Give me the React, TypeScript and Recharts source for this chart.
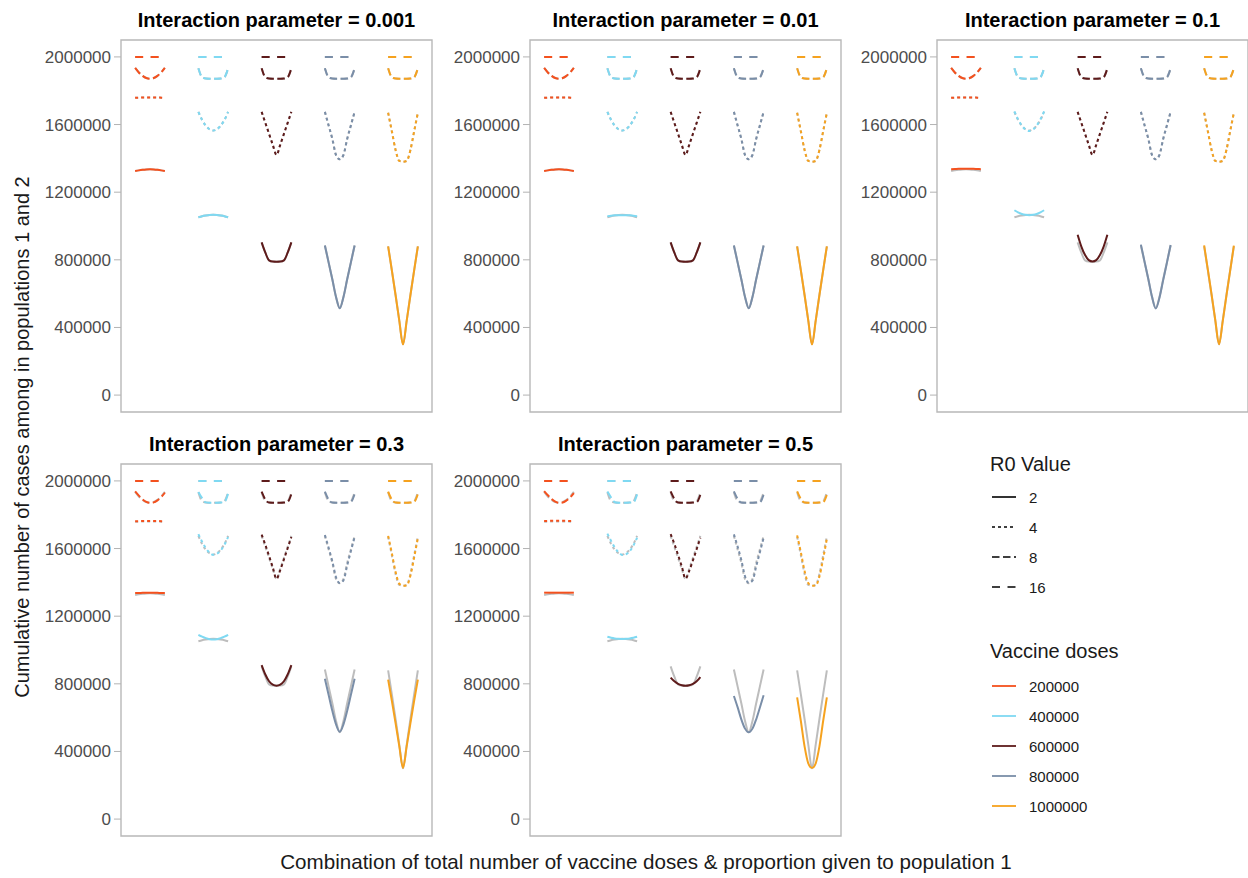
import { LineChart, Line, XAxis, YAxis, ReferenceArea } from 'recharts';

const interactionParams = ['0.001', '0.01', '0.1', '0.3', '0.5'];
const doses = [200000, 400000, 600000, 800000, 1000000];
const r0Values = [2, 4, 8, 16];
const proportions = [0, 0.125, 0.25, 0.375, 0.5, 0.625, 0.75, 0.875, 1];
const yTicks = [0, 400000, 800000, 1200000, 1600000, 2000000];

// rows inside each dose block follow r0Values: 2, 4, 8, 16
const top16 = [2000000, 2000000, 2000000, 2000000, 2000000, 2000000, 2000000, 2000000, 2000000];
const trap8 = [1933000, 1880000, 1872000, 1871000, 1871000, 1871000, 1872000, 1880000, 1933000];

// baseline (also drawn in grey behind every panel)
const base200 = [
  [1325000, 1329000, 1332000, 1334000, 1335000, 1334000, 1332000, 1329000, 1325000],
  [1758000, 1759000, 1760000, 1760000, 1760000, 1760000, 1760000, 1759000, 1758000],
  [1935000, 1908000, 1888000, 1875000, 1871000, 1875000, 1888000, 1908000, 1935000],
  top16,
];
const base400 = [
  [1052000, 1058000, 1062000, 1065000, 1066000, 1065000, 1062000, 1058000, 1052000],
  [1675000, 1627000, 1593000, 1572000, 1565000, 1572000, 1593000, 1627000, 1675000],
  trap8,
  top16,
];
const base600 = [
  [903000, 842000, 797000, 790000, 789000, 790000, 797000, 842000, 903000],
  [1675000, 1610000, 1545000, 1480000, 1420000, 1480000, 1545000, 1610000, 1675000],
  trap8,
  top16,
];
const base800 = [
  [885000, 785000, 685000, 580000, 513000, 580000, 685000, 785000, 885000],
  [1675000, 1595000, 1515000, 1420000, 1395000, 1420000, 1515000, 1595000, 1675000],
  trap8,
  top16,
];
const base1000 = [
  [880000, 738000, 592000, 440000, 300000, 440000, 592000, 738000, 880000],
  [1670000, 1560000, 1450000, 1385000, 1380000, 1385000, 1450000, 1560000, 1670000],
  trap8,
  top16,
];

// interaction = 0.01
const p01_400 = [
  [1058000, 1061000, 1063000, 1064000, 1064000, 1064000, 1063000, 1061000, 1058000],
  base400[1],
  trap8,
  top16,
];

// interaction = 0.1
const p1_200 = [
  [1336000, 1337000, 1338000, 1338000, 1338000, 1338000, 1338000, 1337000, 1336000],
  base200[1],
  base200[2],
  top16,
];
const p1_400 = [
  [1093000, 1080000, 1071000, 1066000, 1064000, 1066000, 1071000, 1080000, 1093000],
  [1678000, 1630000, 1594000, 1570000, 1562000, 1570000, 1594000, 1630000, 1678000],
  trap8,
  top16,
];
const p1_600 = [
  [948000, 878000, 828000, 798000, 790000, 798000, 828000, 878000, 948000],
  base600[1],
  trap8,
  top16,
];
const p1_800 = [
  [890000, 788000, 687000, 581000, 512000, 576000, 680000, 782000, 888000],
  base800[1],
  trap8,
  top16,
];
const p1_1000 = [
  [885000, 742000, 596000, 444000, 300000, 436000, 588000, 735000, 884000],
  base1000[1],
  trap8,
  top16,
];

// interaction = 0.3
const p3_200 = [
  [1337000, 1337000, 1338000, 1338000, 1338000, 1338000, 1338000, 1337000, 1337000],
  [1762000, 1762000, 1763000, 1763000, 1763000, 1763000, 1763000, 1762000, 1762000],
  [1938000, 1913000, 1891000, 1876000, 1870000, 1873000, 1885000, 1904000, 1930000],
  top16,
];
const p3_400 = [
  [1090000, 1079000, 1070000, 1064000, 1062000, 1064000, 1070000, 1079000, 1090000],
  [1685000, 1640000, 1602000, 1576000, 1563000, 1569000, 1588000, 1622000, 1668000],
  [1935000, 1898000, 1873000, 1871000, 1871000, 1871000, 1872000, 1876000, 1925000],
  top16,
];
const p3_600 = [
  [911000, 855000, 815000, 795000, 789000, 795000, 815000, 855000, 911000],
  [1682000, 1622000, 1556000, 1488000, 1420000, 1472000, 1536000, 1602000, 1668000],
  [1936000, 1890000, 1872000, 1871000, 1871000, 1871000, 1872000, 1876000, 1922000],
  top16,
];
const p3_800 = [
  [830000, 735000, 640000, 560000, 516000, 560000, 640000, 735000, 830000],
  [1680000, 1605000, 1525000, 1430000, 1396000, 1412000, 1500000, 1585000, 1668000],
  [1936000, 1890000, 1872000, 1871000, 1871000, 1871000, 1872000, 1876000, 1922000],
  top16,
];
const p3_1000 = [
  [825000, 700000, 568000, 432000, 303000, 432000, 568000, 700000, 825000],
  [1675000, 1572000, 1462000, 1392000, 1380000, 1382000, 1440000, 1548000, 1662000],
  [1936000, 1890000, 1872000, 1871000, 1871000, 1871000, 1872000, 1876000, 1922000],
  top16,
];

// interaction = 0.5
const p5_200 = [
  [1339000, 1339000, 1339000, 1339000, 1339000, 1339000, 1339000, 1339000, 1339000],
  [1763000, 1763000, 1764000, 1764000, 1764000, 1764000, 1764000, 1763000, 1763000],
  [1940000, 1915000, 1893000, 1877000, 1870000, 1872000, 1884000, 1902000, 1928000],
  top16,
];
const p5_400 = [
  [1078000, 1072000, 1068000, 1066000, 1065000, 1066000, 1068000, 1072000, 1078000],
  [1688000, 1645000, 1606000, 1578000, 1562000, 1566000, 1584000, 1618000, 1664000],
  [1937000, 1902000, 1874000, 1871000, 1871000, 1871000, 1872000, 1874000, 1920000],
  top16,
];
const p5_600 = [
  [837000, 815000, 800000, 792000, 789000, 792000, 800000, 815000, 840000],
  [1685000, 1628000, 1562000, 1494000, 1422000, 1468000, 1530000, 1596000, 1664000],
  [1938000, 1894000, 1872000, 1871000, 1871000, 1871000, 1872000, 1874000, 1918000],
  top16,
];
const p5_800 = [
  [728000, 662000, 590000, 535000, 513000, 535000, 590000, 660000, 732000],
  [1684000, 1612000, 1532000, 1436000, 1397000, 1410000, 1494000, 1578000, 1664000],
  [1938000, 1894000, 1872000, 1871000, 1871000, 1871000, 1872000, 1874000, 1918000],
  top16,
];
const p5_1000 = [
  [720000, 580000, 430000, 330000, 303000, 330000, 430000, 580000, 720000],
  [1678000, 1578000, 1468000, 1395000, 1380000, 1381000, 1435000, 1540000, 1658000],
  [1938000, 1894000, 1872000, 1871000, 1871000, 1871000, 1872000, 1874000, 1918000],
  top16,
];

const baseline = [base200, base400, base600, base800, base1000];
const panelCases = [
  baseline,
  [base200, p01_400, base600, base800, base1000],
  [p1_200, p1_400, p1_600, p1_800, p1_1000],
  [p3_200, p3_400, p3_600, p3_800, p3_1000],
  [p5_200, p5_400, p5_600, p5_800, p5_1000],
];

const doseColors = ['#F4511E', '#7FD9F2', '#5E1B1B', '#7A8EA8', '#F6A21E'];
const r0Dash = ['0', '3 3', '7.5 3.5', '8 7.5'];
const GREY = '#bdbdbd';
const FONT = '"Liberation Sans", Arial, sans-serif';

const GROUP_SPAN = 0.47;
const X_MIN = -0.2235;
const X_MAX = 4 + GROUP_SPAN + 0.2235;
const Y_MIN = -100000;
const Y_MAX = 2100000;

const PANEL_W = 311;
const PANEL_H = 372;
const AXIS_W = 80;
const panelPos = [
  { left: 121, top: 40, titleY: 20 },
  { left: 530, top: 40, titleY: 20 },
  { left: 937, top: 40, titleY: 20 },
  { left: 121, top: 464, titleY: 444 },
  { left: 530, top: 464, titleY: 444 },
];

const toPoints = (values: number[], doseIdx: number) =>
  proportions.map((p, i) => ({ x: doseIdx + p * GROUP_SPAN, y: values[i] }));

function Panel({ idx }: { idx: number }) {
  const pos = panelPos[idx];
  const cases = panelCases[idx];
  const lines = (src: number[][][], grey: boolean) =>
    src.flatMap((block, d) =>
      block.map((vals, r) => (
        <Line
          key={`${grey ? 'g' : 'c'}-${d}-${r}`}
          data={toPoints(vals, d)}
          dataKey="y"
          type="monotone"
          stroke={grey ? GREY : doseColors[d]}
          strokeWidth={2}
          strokeDasharray={r0Dash[r]}
          dot={false}
          activeDot={false}
          isAnimationActive={false}
        />
      ))
    );

  return (
    <>
      <div
        style={{
          position: 'absolute',
          left: pos.left + PANEL_W / 2 - 200,
          top: pos.titleY - 13,
          width: 400,
          height: 26,
          lineHeight: '26px',
          textAlign: 'center',
          fontFamily: FONT,
          fontWeight: 'bold',
          fontSize: 20,
          color: '#000',
        }}
      >
        Interaction parameter = {interactionParams[idx]}
      </div>
      <div style={{ position: 'absolute', left: pos.left - AXIS_W, top: pos.top - 2 }}>
        <LineChart
          width={AXIS_W + PANEL_W + 2}
          height={PANEL_H + 4}
          margin={{ top: 2, right: 2, bottom: 2, left: 0 }}
        >
          <XAxis type="number" dataKey="x" domain={[X_MIN, X_MAX]} allowDataOverflow hide />
          <YAxis
            type="number"
            domain={[Y_MIN, Y_MAX]}
            ticks={yTicks}
            interval={0}
            allowDataOverflow
            width={AXIS_W}
            axisLine={false}
            tickLine={{ stroke: '#b3b3b3' }}
            tickSize={7}
            tickMargin={3}
            tick={{ fill: '#4d4d4d', fontSize: 17, fontFamily: FONT }}
          />
          <ReferenceArea
            x1={X_MIN}
            x2={X_MAX}
            y1={Y_MIN}
            y2={Y_MAX}
            fill="none"
            stroke="#b8b8b8"
            strokeWidth={1.4}
            ifOverflow="visible"
          />
          {lines(baseline, true)}
          {lines(cases, false)}
        </LineChart>
      </div>
    </>
  );
}

function Legend() {
  const text = { fontFamily: FONT, fill: '#1a1a1a' };
  return (
    <svg
      width={260}
      height={400}
      style={{ position: 'absolute', left: 980, top: 445 }}
    >
      <text x={10} y={19} dominantBaseline="central" fontSize={20} {...text}>
        R0 Value
      </text>
      {r0Values.map((r0, i) => (
        <g key={r0}>
          <line x1={12} x2={36} y1={52 + i * 30} y2={52 + i * 30} stroke="#000" strokeWidth={1.6} strokeDasharray={r0Dash[i]} />
          <text x={49} y={52 + i * 30} dominantBaseline="central" fontSize={15} {...text}>
            {r0}
          </text>
        </g>
      ))}
      <text x={10} y={206} dominantBaseline="central" fontSize={20} {...text}>
        Vaccine doses
      </text>
      {doses.map((d, i) => (
        <g key={d}>
          <line x1={12} x2={36} y1={241 + i * 30} y2={241 + i * 30} stroke={doseColors[i]} strokeWidth={1.8} />
          <text x={49} y={241 + i * 30} dominantBaseline="central" fontSize={15} {...text}>
            {d}
          </text>
        </g>
      ))}
    </svg>
  );
}

export default function App() {
  return (
    <div style={{ position: 'absolute', left: 0, top: 0, width: 1248, height: 878, background: '#fff', overflow: 'hidden' }}>
      {interactionParams.map((_, i) => (
        <Panel key={i} idx={i} />
      ))}
      <Legend />
      <div
        style={{
          position: 'absolute',
          left: 22 - 350,
          top: 437 - 13,
          width: 700,
          height: 26,
          lineHeight: '26px',
          textAlign: 'center',
          transform: 'rotate(-90deg)',
          fontFamily: FONT,
          fontSize: 20,
          color: '#1a1a1a',
        }}
      >
        Cumulative number of cases among in populations 1 and 2
      </div>
      <div
        style={{
          position: 'absolute',
          left: 646 - 500,
          top: 862 - 13,
          width: 1000,
          height: 26,
          lineHeight: '26px',
          textAlign: 'center',
          fontFamily: FONT,
          fontSize: 20.6,
          color: '#1a1a1a',
        }}
      >
        Combination of total number of vaccine doses &amp; proportion given to population 1
      </div>
    </div>
  );
}
